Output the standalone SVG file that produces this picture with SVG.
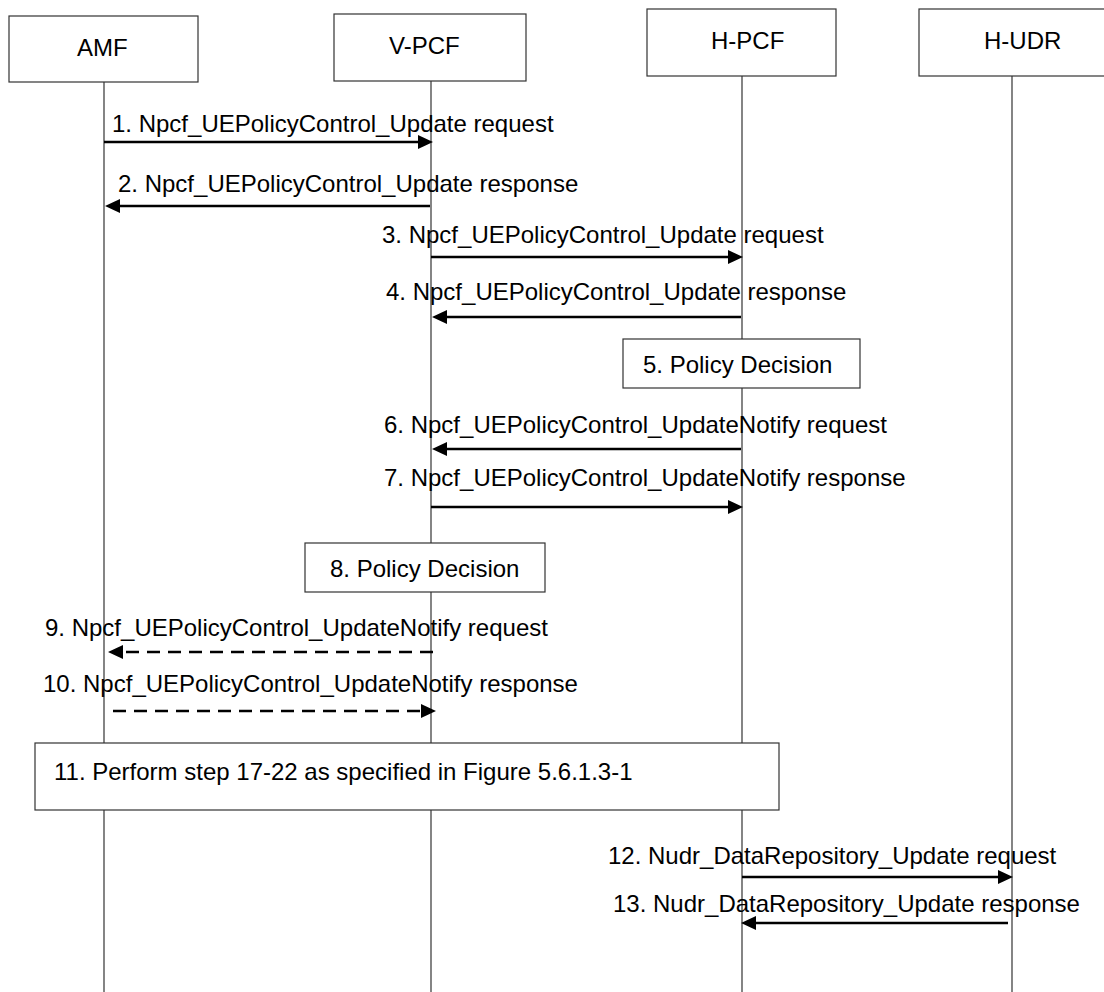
<svg xmlns="http://www.w3.org/2000/svg" width="1104" height="992" viewBox="0 0 1104 992">
  <style>
    text { font-family: "Liberation Sans", Arial, sans-serif; font-size: 24px; fill: #000; }
    .box { fill: #fff; stroke: #333; stroke-width: 1.2; }
    .life { stroke: #333; stroke-width: 1.2; fill: none; }
    .msg { stroke: #000; stroke-width: 2.6; fill: none; }
    .dash { stroke-dasharray: 13 8; }
  </style>
  <defs>
    <marker id="ah" markerUnits="userSpaceOnUse" markerWidth="16" markerHeight="15" refX="7" refY="7" orient="auto">
      <path d="M0,0 L15,7 L0,14 z" fill="#000"/>
    </marker>
  </defs>
  <rect width="1104" height="992" fill="#fff"/>

  <g id="lifelines">
    <line class="life" x1="104" y1="82" x2="104" y2="992"/>
    <line class="life" x1="431" y1="81" x2="431" y2="992"/>
    <line class="life" x1="742" y1="76" x2="742" y2="992"/>
    <line class="life" x1="1012" y1="76" x2="1012" y2="992"/>
  </g>

  <g id="node-amf">
    <rect class="box" x="9" y="16" width="189" height="66"/>
    <text x="77" y="56">AMF</text>
  </g>
  <g id="node-vpcf">
    <rect class="box" x="334" y="14" width="192" height="67"/>
    <text x="389" y="54">V-PCF</text>
  </g>
  <g id="node-hpcf">
    <rect class="box" x="647" y="9" width="189" height="67"/>
    <text x="711" y="49">H-PCF</text>
  </g>
  <g id="node-hudr">
    <rect class="box" x="919" y="9" width="200" height="67"/>
    <text x="984" y="49">H-UDR</text>
  </g>

  <g id="step5">
    <rect class="box" x="623" y="339" width="237" height="49"/>
    <text x="643" y="373">5. Policy Decision</text>
  </g>
  <g id="step8">
    <rect class="box" x="305" y="543" width="240" height="49"/>
    <text x="330" y="577">8. Policy Decision</text>
  </g>
  <g id="step11">
    <rect class="box" x="35" y="743" width="744" height="67"/>
    <text x="54" y="780">11. Perform step 17-22 as specified in Figure 5.6.1.3-1</text>
  </g>

  <g id="connectors">
    <line class="msg" x1="104" y1="142" x2="425" y2="142" marker-end="url(#ah)"/>
    <line class="msg" x1="430" y1="206" x2="113" y2="206" marker-end="url(#ah)"/>
    <line class="msg" x1="431" y1="257" x2="735" y2="257" marker-end="url(#ah)"/>
    <line class="msg" x1="741" y1="317" x2="440" y2="317" marker-end="url(#ah)"/>
    <line class="msg" x1="741" y1="449" x2="440" y2="449" marker-end="url(#ah)"/>
    <line class="msg" x1="431" y1="507" x2="735" y2="507" marker-end="url(#ah)"/>
    <line class="msg dash" x1="433" y1="652" x2="116" y2="652" marker-end="url(#ah)"/>
    <line class="msg dash" x1="113" y1="711" x2="428" y2="711" marker-end="url(#ah)"/>
    <line class="msg" x1="742" y1="877" x2="1005" y2="877" marker-end="url(#ah)"/>
    <line class="msg" x1="1008" y1="923" x2="749" y2="923" marker-end="url(#ah)"/>
  </g>

  <g id="labels">
    <text x="112" y="132">1. Npcf_UEPolicyControl_Update request</text>
    <text x="118" y="192">2. Npcf_UEPolicyControl_Update response</text>
    <text x="382" y="243">3. Npcf_UEPolicyControl_Update request</text>
    <text x="386" y="300">4. Npcf_UEPolicyControl_Update response</text>
    <text x="384" y="433">6. Npcf_UEPolicyControl_UpdateNotify request</text>
    <text x="384" y="486">7. Npcf_UEPolicyControl_UpdateNotify response</text>
    <text x="45" y="636">9. Npcf_UEPolicyControl_UpdateNotify request</text>
    <text x="43" y="692">10. Npcf_UEPolicyControl_UpdateNotify response</text>
    <text x="608" y="864">12. Nudr_DataRepository_Update request</text>
    <text x="613" y="912">13. Nudr_DataRepository_Update response</text>
  </g>
</svg>
